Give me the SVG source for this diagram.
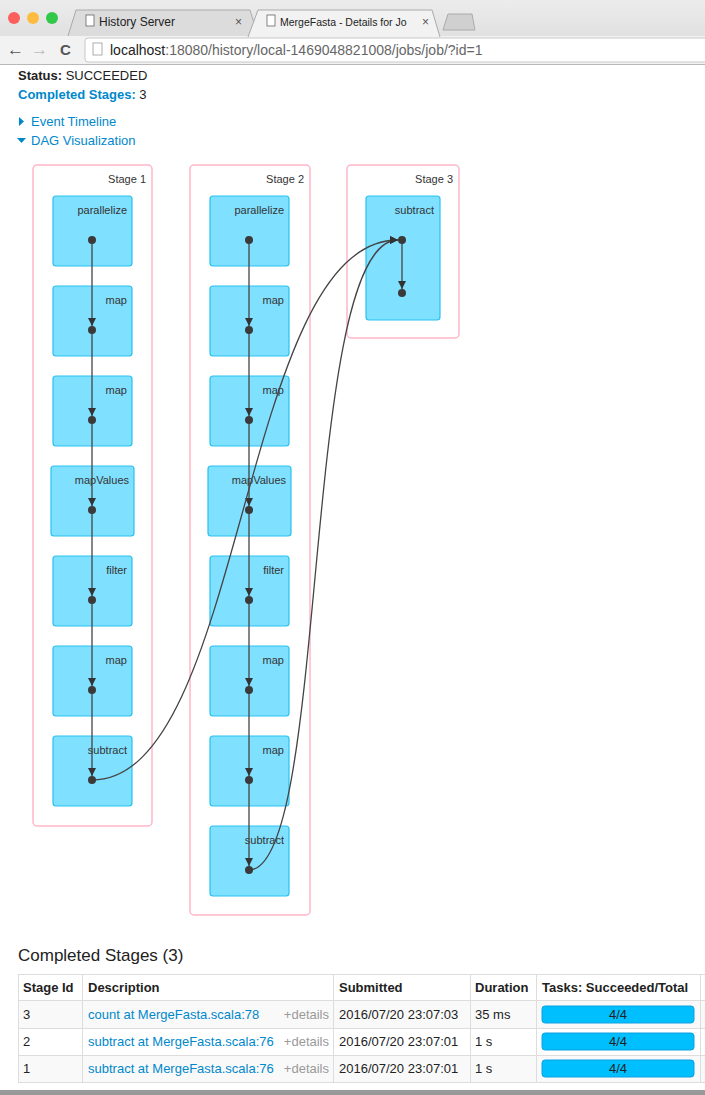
<svg xmlns="http://www.w3.org/2000/svg" width="705" height="1095" viewBox="0 0 705 1095">
<style>
text{font-family:"Liberation Sans",Arial,sans-serif}
.cl{fill:#fff;stroke:#ffb6c8;stroke-width:1.5}
.nd{fill:#80e0ff;stroke:#28c2f0;stroke-width:1.2}
.lb{font-size:11px;fill:#333;text-anchor:end}
.sl{font-size:11px;fill:#333;text-anchor:end}
.e{stroke:#444;stroke-width:1.3;fill:none;marker-end:url(#ah)}
.dot{fill:#3a3a3a}
.t{font-size:13px;fill:#222}
.lk{font-size:13px;fill:#0088cc}
.th{font-size:13px;fill:#222;font-weight:bold}
.bar{fill:#00bfff;stroke:#10a0e0}
</style>
<defs>
<marker id="ah" viewBox="0 0 10 10" refX="10" refY="5" markerWidth="8" markerHeight="8" orient="auto" markerUnits="userSpaceOnUse"><path d="M0,0L10,5L0,10z" fill="#333"/></marker>
<linearGradient id="chrome" x1="0" y1="0" x2="0" y2="1"><stop offset="0" stop-color="#ececec"/><stop offset="1" stop-color="#d8d8d8"/></linearGradient>
</defs>
<rect width="705" height="1095" fill="#fff"/>
<g id="browser">
<rect x="0" y="0" width="705" height="64" fill="url(#chrome)"/>
<rect x="0" y="36" width="705" height="28" fill="#f2f2f2"/>
<line x1="0" y1="64.5" x2="705" y2="64.5" stroke="#b8b8b8"/>
<circle cx="14" cy="18" r="6" fill="#fc605c"/><circle cx="33" cy="18" r="6" fill="#fdbc40"/><circle cx="52" cy="18" r="6" fill="#34c84a"/>
<path d="M68,36 L76,10 L250,10 L258,36" fill="#dcdcdc" stroke="#aaa"/>
<path d="M248,37 L258,10 L432,10 L440,37" fill="#f2f2f2" stroke="#aaa"/>
<path d="M443,30 L448,14 L472,14 L475,30z" fill="#d0d0d0" stroke="#aaa"/>
<rect x="86" y="15" width="8" height="11" fill="#fff" stroke="#666" stroke-width="0.8"/>
<text x="99" y="26" style="font-size:12px;fill:#222">History Server</text>
<text x="235" y="26" style="font-size:12px;fill:#555">×</text>
<rect x="267" y="15" width="8" height="11" fill="#fff" stroke="#666" stroke-width="0.8"/>
<text x="280" y="26" style="font-size:10.5px;fill:#222">MergeFasta - Details for Jo</text>
<text x="422" y="26" style="font-size:12px;fill:#555">×</text>
<text x="7" y="55" style="font-size:17px;fill:#555">←</text>
<text x="31" y="55" style="font-size:17px;fill:#bbb">→</text>
<text x="60" y="55" style="font-size:15px;fill:#555;font-weight:bold">C</text>
<rect x="85" y="38" width="630" height="24" rx="3" fill="#fff" stroke="#c8c8c8"/>
<rect x="93" y="43" width="9" height="12" fill="#fff" stroke="#999" stroke-width="0.8"/>
<text x="110" y="55" style="font-size:14px;fill:#222">localhost<tspan fill="#666">:18080/history/local-1469048821008/jobs/job/?id=1</tspan></text>
</g>
<g id="header">
<text x="18" y="80" class="t"><tspan font-weight="bold">Status:</tspan> SUCCEEDED</text>
<text x="18" y="99" class="lk" font-weight="bold">Completed Stages:<tspan fill="#222" font-weight="normal"> 3</tspan></text>
<path d="M19,117 L24,121.5 L19,126z" fill="#0088cc"/>
<text x="31" y="126" class="lk">Event Timeline</text>
<path d="M17,138 L26,138 L21.5,143z" fill="#0088cc"/>
<text x="31" y="145" class="lk">DAG Visualization</text>
</g>
<g id="stage1"><rect class="cl" x="33" y="165" width="119" height="661" rx="4"/><text class="sl" x="146" y="183">Stage 1</text></g>
<g id="stage2"><rect class="cl" x="190" y="165" width="120" height="750" rx="4"/><text class="sl" x="304" y="183">Stage 2</text></g>
<g id="stage3"><rect class="cl" x="347" y="165" width="112" height="173" rx="4"/><text class="sl" x="453" y="183">Stage 3</text></g>
<g id="s1n1"><rect class="nd" x="53" y="196" width="79" height="70" rx="3"/><text class="lb" x="127" y="214">parallelize</text></g>
<g id="s1n2"><rect class="nd" x="53" y="286" width="79" height="70" rx="3"/><text class="lb" x="127" y="304">map</text></g>
<g id="s1n3"><rect class="nd" x="53" y="376" width="79" height="70" rx="3"/><text class="lb" x="127" y="394">map</text></g>
<g id="s1n4"><rect class="nd" x="51" y="466" width="83" height="70" rx="3"/><text class="lb" x="129" y="484">mapValues</text></g>
<g id="s1n5"><rect class="nd" x="53" y="556" width="79" height="70" rx="3"/><text class="lb" x="127" y="574">filter</text></g>
<g id="s1n6"><rect class="nd" x="53" y="646" width="79" height="70" rx="3"/><text class="lb" x="127" y="664">map</text></g>
<g id="s1n7"><rect class="nd" x="53" y="736" width="79" height="70" rx="3"/><text class="lb" x="127" y="754">subtract</text></g>
<g id="s2n1"><rect class="nd" x="210" y="196" width="79" height="70" rx="3"/><text class="lb" x="284" y="214">parallelize</text></g>
<g id="s2n2"><rect class="nd" x="210" y="286" width="79" height="70" rx="3"/><text class="lb" x="284" y="304">map</text></g>
<g id="s2n3"><rect class="nd" x="210" y="376" width="79" height="70" rx="3"/><text class="lb" x="284" y="394">map</text></g>
<g id="s2n4"><rect class="nd" x="208" y="466" width="83" height="70" rx="3"/><text class="lb" x="286" y="484">mapValues</text></g>
<g id="s2n5"><rect class="nd" x="210" y="556" width="79" height="70" rx="3"/><text class="lb" x="284" y="574">filter</text></g>
<g id="s2n6"><rect class="nd" x="210" y="646" width="79" height="70" rx="3"/><text class="lb" x="284" y="664">map</text></g>
<g id="s2n7"><rect class="nd" x="210" y="736" width="79" height="70" rx="3"/><text class="lb" x="284" y="754">map</text></g>
<g id="s2n8"><rect class="nd" x="210" y="826" width="79" height="70" rx="3"/><text class="lb" x="284" y="844">subtract</text></g>
<g id="s3n1"><rect class="nd" x="366" y="196" width="74" height="124" rx="3"/><text class="lb" x="434" y="214">subtract</text></g>
<g id="edges">
<path class="e" d="M92,240V326"/><path class="e" d="M92,330V416"/><path class="e" d="M92,420V506"/><path class="e" d="M92,510V596"/><path class="e" d="M92,600V686"/><path class="e" d="M92,690V776"/>
<path class="e" d="M249,240V326"/><path class="e" d="M249,330V416"/><path class="e" d="M249,420V506"/><path class="e" d="M249,510V596"/><path class="e" d="M249,600V686"/><path class="e" d="M249,690V776"/><path class="e" d="M249,780V866"/>
<path class="e" d="M402,240V289"/>
<path class="e" d="M92,780C245,780 240,240 398,240"/>
<path class="e" d="M249,870C330,870 300,240 398,240"/>
</g>
<g id="dots">
<circle class="dot" cx="92" cy="240" r="4"/><circle class="dot" cx="92" cy="330" r="4"/><circle class="dot" cx="92" cy="420" r="4"/><circle class="dot" cx="92" cy="510" r="4"/><circle class="dot" cx="92" cy="600" r="4"/><circle class="dot" cx="92" cy="690" r="4"/><circle class="dot" cx="92" cy="780" r="4"/>
<circle class="dot" cx="249" cy="240" r="4"/><circle class="dot" cx="249" cy="330" r="4"/><circle class="dot" cx="249" cy="420" r="4"/><circle class="dot" cx="249" cy="510" r="4"/><circle class="dot" cx="249" cy="600" r="4"/><circle class="dot" cx="249" cy="690" r="4"/><circle class="dot" cx="249" cy="780" r="4"/><circle class="dot" cx="249" cy="870" r="4"/>
<circle class="dot" cx="402" cy="240" r="4"/><circle class="dot" cx="402" cy="293" r="4"/>
</g>
<g id="table">
<text x="18" y="961" style="font-size:17px;fill:#222">Completed Stages (3)</text>
<rect x="18.5" y="974.5" width="700" height="108" fill="#fff" stroke="#ddd"/>
<rect x="19" y="1000" width="699" height="28" fill="#f9f9f9"/>
<rect x="19" y="1055" width="699" height="27" fill="#f9f9f9"/>
<g stroke="#ddd"><line x1="18" y1="1000.5" x2="705" y2="1000.5"/><line x1="18" y1="1028.5" x2="705" y2="1028.5"/><line x1="18" y1="1055.5" x2="705" y2="1055.5"/>
<line x1="82.5" y1="975" x2="82.5" y2="1082"/><line x1="333.5" y1="975" x2="333.5" y2="1082"/><line x1="470.5" y1="975" x2="470.5" y2="1082"/><line x1="536.5" y1="975" x2="536.5" y2="1082"/><line x1="700.5" y1="975" x2="700.5" y2="1082"/></g>
<text class="th" x="23" y="992">Stage Id</text><text class="th" x="88" y="992">Description</text><text class="th" x="339" y="992">Submitted</text><text class="th" x="475" y="992">Duration</text><text class="th" x="542" y="992">Tasks: Succeeded/Total</text>
<text class="t" x="23" y="1019">3</text><text class="lk" x="88" y="1019">count at MergeFasta.scala:78</text><text x="329" y="1019" style="font-size:13px;fill:#999;text-anchor:end">+details</text><text class="t" x="339" y="1019">2016/07/20 23:07:03</text><text class="t" x="475" y="1019">35 ms</text>
<text class="t" x="23" y="1046">2</text><text class="lk" x="88" y="1046">subtract at MergeFasta.scala:76</text><text x="329" y="1046" style="font-size:13px;fill:#999;text-anchor:end">+details</text><text class="t" x="339" y="1046">2016/07/20 23:07:01</text><text class="t" x="475" y="1046">1 s</text>
<text class="t" x="23" y="1073">1</text><text class="lk" x="88" y="1073">subtract at MergeFasta.scala:76</text><text x="329" y="1073" style="font-size:13px;fill:#999;text-anchor:end">+details</text><text class="t" x="339" y="1073">2016/07/20 23:07:01</text><text class="t" x="475" y="1073">1 s</text>
<rect class="bar" x="542" y="1006" width="152" height="17" rx="3"/><text class="t" x="618" y="1019" text-anchor="middle">4/4</text>
<rect class="bar" x="542" y="1033" width="152" height="17" rx="3"/><text class="t" x="618" y="1046" text-anchor="middle">4/4</text>
<rect class="bar" x="542" y="1060" width="152" height="17" rx="3"/><text class="t" x="618" y="1073" text-anchor="middle">4/4</text>
</g>
<rect x="0" y="1090" width="705" height="5" fill="#999"/>
</svg>
